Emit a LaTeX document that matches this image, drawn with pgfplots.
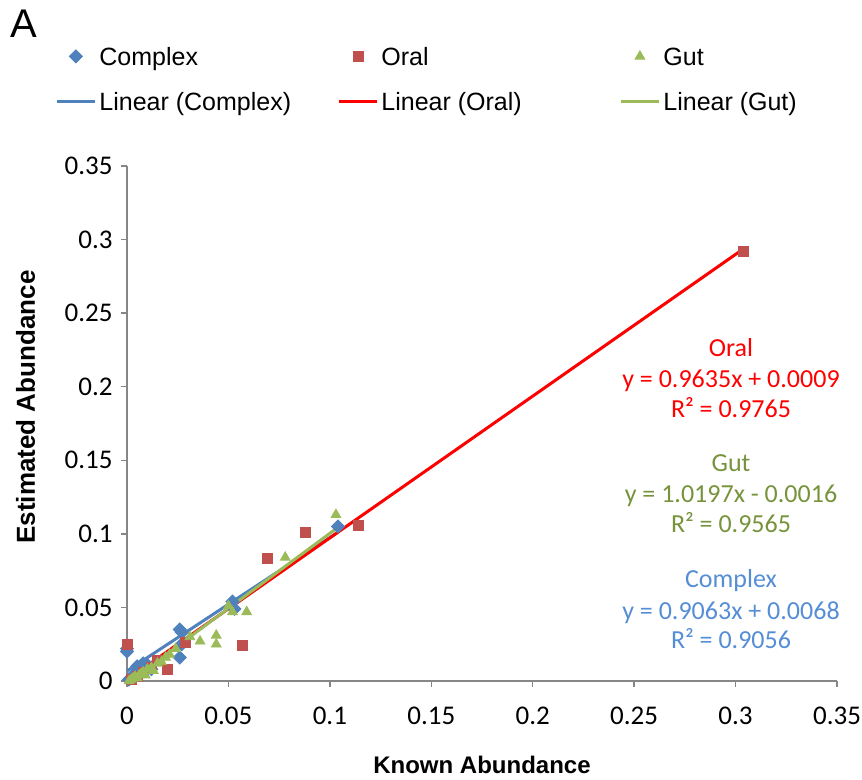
\documentclass[border=0pt]{standalone}
\usepackage{pgfplots}
\pgfplotsset{compat=1.18}
\usepackage{fontspec}
\setmainfont{Liberation Sans}
\newfontfamily\calibri{Carlito}
\definecolor{cblue}{HTML}{4F81BD}
\definecolor{cred}{HTML}{C0504D}
\definecolor{cgreen}{HTML}{9BBB59}
\definecolor{lblue}{HTML}{558ED5}
\definecolor{lred}{HTML}{FF0000}
\definecolor{tgreen}{HTML}{77933C}
\definecolor{axgray}{HTML}{868686}
\pgfplotsset{
  markleg/.style={legend image code/.code={\draw[##1] plot coordinates {(9.5pt,4.5pt)};}},
  lineleg/.style={legend image code/.code={\draw[##1] (0pt,4.5pt) -- (19pt,4.5pt);}},
}
\begin{document}
\begin{tikzpicture}[x=1pt,y=1pt]
\path[use as bounding box] (0,0) rectangle (431,390);
\begin{axis}[
  at={(63.5pt,49.5pt)}, anchor=south west,
  scale only axis, width=355pt, height=257.5pt,
  xmin=0, xmax=0.35, ymin=0, ymax=0.35,
  axis lines=left, axis line style={-, axgray, line width=0.75pt},
  tick align=outside, major tick length=3pt,
  tick style={axgray, line width=0.75pt},
  xtick={0,0.05,0.1,0.15,0.2,0.25,0.3,0.35},
  ytick={0,0.05,0.1,0.15,0.2,0.25,0.3,0.35},
  xticklabels={0,0.05,0.1,0.15,0.2,0.25,0.3,0.35},
  yticklabels={0,0.05,0.1,0.15,0.2,0.25,0.3,0.35},
  ticklabel style={font=\calibri\fontsize{13.5}{15}\selectfont, inner sep=0pt},
  yticklabel style={xshift=-4pt},
  xticklabel style={yshift=-10pt},
  xlabel={Known Abundance}, ylabel={Estimated Abundance},
  xlabel style={font=\bfseries\fontsize{12}{14}\selectfont, at={(axis description cs:0.5,-0.163)}, anchor=center},
  ylabel style={font=\bfseries\fontsize{13}{15}\selectfont, at={(axis description cs:-0.143,0.532)}, anchor=center},
  clip=false,
  legend columns=3,
  legend style={at={(axis description cs:-0.1014,1.2311)}, anchor=north west,
    draw=none, fill=none, inner sep=0pt, column sep=0pt, row sep=10.5pt,
    font=\fontsize{12.5}{14}\selectfont,
    nodes={inner sep=0pt, text height=9pt, text depth=3pt, anchor=base west},
    /tikz/every odd column/.append style={column sep=1.5pt}},
]
\addplot[only marks, mark=square*, mark size=2.3pt, mark options={rotate=45, fill=cblue, draw=cblue}, color=cblue, markleg]
coordinates {(0.000,0.022) (0.000,0.020) (0.001,0.001) (0.003,0.004) (0.005,0.010) (0.008,0.012) (0.010,0.011) (0.012,0.008) (0.026,0.035) (0.027,0.033) (0.026,0.016) (0.027,0.025) (0.052,0.054) (0.053,0.049) (0.104,0.105)};
\addlegendentry{\makebox[119pt][l]{Complex}}
\addplot[only marks, mark=square*, mark size=2.5pt, color=cred, markleg]
coordinates {(0.000,0.025) (0.002,0.001) (0.005,0.003) (0.008,0.006) (0.012,0.009) (0.015,0.014) (0.020,0.008) (0.029,0.026) (0.057,0.024) (0.069,0.083) (0.088,0.101) (0.114,0.106) (0.304,0.292)};
\addlegendentry{\makebox[119pt][l]{Oral}}
\addplot[only marks, mark=triangle*, mark size=2.8pt, color=cgreen, markleg]
coordinates {(0.001,0.000) (0.002,0.001) (0.003,0.002) (0.004,0.003) (0.005,0.002) (0.006,0.004) (0.007,0.005) (0.008,0.006) (0.009,0.004) (0.010,0.008) (0.012,0.009) (0.013,0.007) (0.015,0.012) (0.017,0.013) (0.019,0.016) (0.021,0.018) (0.024,0.022) (0.031,0.030) (0.036,0.027) (0.044,0.031) (0.044,0.025) (0.050,0.051) (0.052,0.047) (0.059,0.047) (0.078,0.084) (0.103,0.113)};
\addlegendentry{\makebox[119pt][l]{Gut}}
\addplot[cblue, line width=1.5pt, no marks, lineleg]
coordinates {(0,0.0068) (0.104,0.1011)};
\addlegendentry{\makebox[119pt][l]{Linear (Complex)}}
\addplot[lred, line width=1.5pt, no marks, lineleg]
coordinates {(0,0.0009) (0.304,0.2938)};
\addlegendentry{\makebox[119pt][l]{Linear (Oral)}}
\addplot[cgreen, line width=1.5pt, no marks, lineleg]
coordinates {(0.0016,0.0000) (0.103,0.1034)};
\addlegendentry{\makebox[119pt][l]{Linear (Gut)}}
\end{axis}
\node[anchor=base west, inner sep=0pt, font=\fontsize{20}{22}\selectfont] at (5,371) {A};
\begin{scope}[every node/.style={anchor=base, inner sep=0pt, font=\calibri\fontsize{13}{15}\selectfont}]
\node[text=lred] at (365.5,211.5) {Oral};
\node[text=lred] at (365.5,196) {y = 0.9635x + 0.0009};
\node[text=lred] at (365.5,181) {R² = 0.9765};
\node[text=tgreen] at (365.5,154) {Gut};
\node[text=tgreen] at (365.5,138.5) {y = 1.0197x - 0.0016};
\node[text=tgreen] at (365.5,123.5) {R² = 0.9565};
\node[text=lblue] at (365.5,96) {Complex};
\node[text=lblue] at (365.5,80) {y = 0.9063x + 0.0068};
\node[text=lblue] at (365.5,65.5) {R² = 0.9056};
\end{scope}
\end{tikzpicture}
\end{document}
